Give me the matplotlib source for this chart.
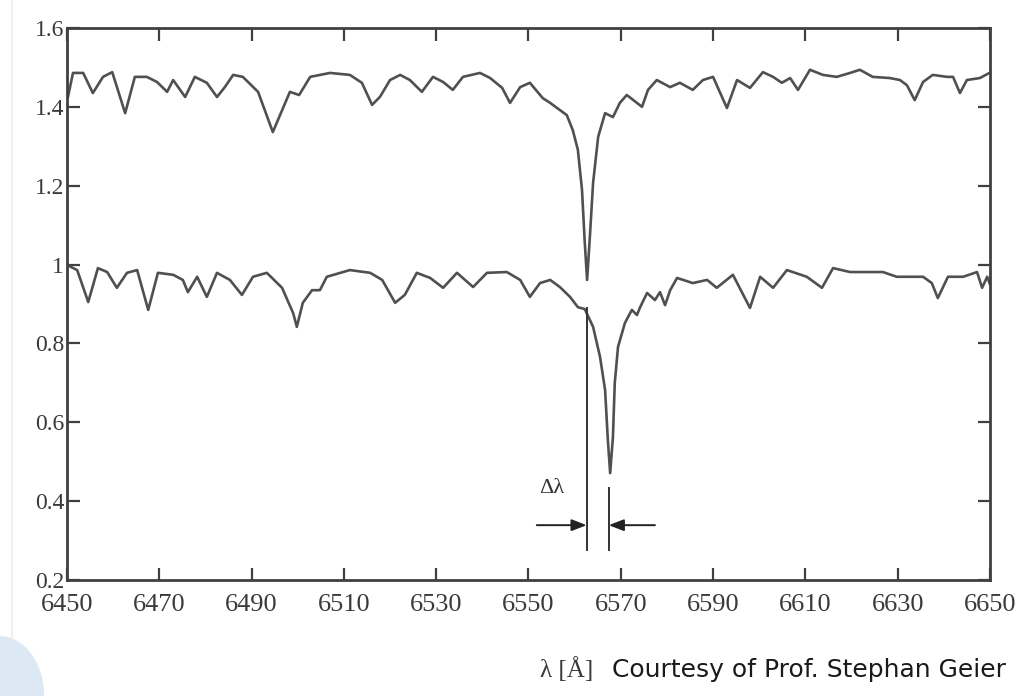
'''spectrum_shift.py
Two normalised spectra around H-alpha, offset by 0.5, with the
Doppler shift of the line core marked.
'''

import matplotlib
matplotlib.use('Agg')
import matplotlib.pyplot as plt
from matplotlib.patches import Ellipse

# upper spectrum (offset +0.5), wavelength in Angstrom
wl_upper = [6450.2, 6451.3, 6453.5, 6455.6, 6457.8, 6459.8, 6462.6, 6464.7,
            6467.3, 6469.5, 6471.7, 6473.0, 6475.6, 6477.7, 6480.3, 6482.5,
            6484.2, 6486.0, 6488.1, 6491.4, 6494.6, 6498.3, 6500.3, 6502.7,
            6507.0, 6511.3, 6513.9, 6516.1, 6517.8, 6520.0, 6522.2, 6524.3,
            6526.9, 6529.3, 6531.5, 6533.6, 6535.8, 6539.5, 6541.7, 6544.3,
            6546.0, 6548.2, 6550.3, 6553.1, 6554.7, 6556.2, 6558.3, 6559.6,
            6560.7, 6561.6, 6562.2, 6562.7, 6563.3, 6564.0, 6565.1, 6566.6,
            6568.3, 6569.8, 6571.3, 6574.6, 6575.9, 6577.8, 6580.7, 6582.8,
            6585.6, 6587.8, 6590.0, 6593.0, 6595.2, 6598.0, 6600.8, 6603.0,
            6604.9, 6606.7, 6608.4, 6611.0, 6613.8, 6616.8, 6619.7, 6621.8,
            6624.6, 6628.3, 6630.5, 6632.0, 6633.7, 6635.5, 6637.6, 6640.7,
            6642.0, 6643.5, 6645.0, 6647.8, 6649.9]
flux_upper = [1.425, 1.486, 1.486, 1.435, 1.476, 1.488, 1.384, 1.476,
              1.476, 1.463, 1.438, 1.468, 1.425, 1.476, 1.461, 1.425,
              1.450, 1.481, 1.476, 1.438, 1.336, 1.438, 1.430, 1.476,
              1.486, 1.481, 1.461, 1.405, 1.425, 1.468, 1.481, 1.468,
              1.438, 1.476, 1.463, 1.443, 1.476, 1.486, 1.473, 1.448,
              1.410, 1.450, 1.461, 1.422, 1.410, 1.397, 1.379, 1.341,
              1.291, 1.189, 1.055, 0.961, 1.070, 1.207, 1.324, 1.384,
              1.374, 1.410, 1.430, 1.400, 1.443, 1.468, 1.450, 1.461,
              1.443, 1.468, 1.476, 1.397, 1.468, 1.448, 1.488, 1.476,
              1.461, 1.473, 1.443, 1.494, 1.481, 1.476, 1.486, 1.494,
              1.476, 1.473, 1.468, 1.455, 1.417, 1.463, 1.481, 1.476,
              1.476, 1.435, 1.468, 1.473, 1.486]

# lower spectrum (red-shifted)
wl_lower = [6450.0, 6452.2, 6454.6, 6456.7, 6458.7, 6460.8, 6463.0, 6465.2,
            6467.6, 6469.7, 6473.0, 6475.1, 6476.2, 6478.2, 6480.3, 6482.5,
            6485.3, 6487.9, 6490.3, 6493.3, 6496.6, 6499.0, 6499.8, 6501.1,
            6503.1, 6504.8, 6506.3, 6511.3, 6515.7, 6518.3, 6521.1, 6523.2,
            6525.8, 6528.7, 6531.5, 6534.5, 6538.0, 6541.0, 6545.3, 6548.2,
            6550.3, 6552.5, 6554.7, 6556.8, 6559.0, 6560.7, 6562.2, 6564.0,
            6565.5, 6566.6, 6567.2, 6567.7, 6568.3, 6568.7, 6569.4, 6570.9,
            6572.4, 6573.5, 6574.2, 6575.7, 6577.4, 6578.5, 6579.6, 6580.7,
            6582.2, 6585.6, 6588.7, 6590.8, 6594.3, 6598.0, 6600.2, 6603.0,
            6606.0, 6610.3, 6613.6, 6616.0, 6619.7, 6623.3, 6626.8, 6629.8,
            6635.5, 6637.4, 6638.7, 6640.9, 6644.2, 6647.2, 6648.3, 6649.4,
            6650.0]
flux_lower = [0.999, 0.986, 0.905, 0.991, 0.981, 0.941, 0.979, 0.986,
              0.885, 0.979, 0.974, 0.961, 0.930, 0.969, 0.918, 0.979,
              0.961, 0.923, 0.969, 0.979, 0.941, 0.877, 0.842, 0.903,
              0.935, 0.935, 0.969, 0.986, 0.979, 0.961, 0.903, 0.923,
              0.979, 0.966, 0.941, 0.979, 0.943, 0.979, 0.981, 0.961,
              0.918, 0.953, 0.961, 0.943, 0.918, 0.892, 0.887, 0.842,
              0.766, 0.682, 0.555, 0.471, 0.563, 0.700, 0.791, 0.852,
              0.885, 0.872, 0.892, 0.928, 0.910, 0.930, 0.897, 0.935,
              0.966, 0.953, 0.961, 0.941, 0.974, 0.890, 0.969, 0.941,
              0.986, 0.969, 0.941, 0.991, 0.981, 0.981, 0.981, 0.969,
              0.969, 0.953, 0.915, 0.969, 0.969, 0.981, 0.941, 0.969,
              0.950]

# line centres used for the shift marker
lam_rest = 6562.6
lam_shift = 6567.4

x_ticks = [6450, 6470, 6490, 6510, 6530, 6550, 6570, 6590, 6610, 6630, 6650]
y_ticks = [0.2, 0.4, 0.6, 0.8, 1.0, 1.2, 1.4, 1.6]
y_ticklabels = ['0.2', '0.4', '0.6', '0.8', '1', '1.2', '1.4', '1.6']

serif = 'Liberation Serif'
ink = '#404040'


def main():
    fig = plt.figure(figsize=(10.23, 6.96), dpi=100)
    ax = fig.add_axes([0.0655, 0.1667, 0.9022, 0.7931])

    ax.plot(wl_upper, flux_upper, color='#505050', lw=1.9)
    ax.plot(wl_lower, flux_lower, color='#505050', lw=1.9)

    ax.set_xlim(6450, 6650)
    ax.set_ylim(0.2, 1.6)

    # marker lines down from the two line cores
    ax.plot([lam_rest, lam_rest], [0.276, 0.889], color='#333333', lw=1.4)
    ax.plot([lam_shift, lam_shift], [0.276, 0.433], color='#333333', lw=1.4)
    arrow = dict(arrowstyle='-|>,head_length=0.9,head_width=0.35',
                 color='#222222', lw=1.4, shrinkA=0, shrinkB=0)
    ax.annotate('', xy=(lam_rest, 0.339), xytext=(6551.8, 0.339),
                arrowprops=arrow)
    ax.annotate('', xy=(lam_shift, 0.339), xytext=(6577.4, 0.339),
                arrowprops=arrow)
    ax.text(6555.1, 0.431, '\u0394\u03bb', family=serif, fontsize=16,
            color='#333333', ha='center', va='center')

    for side in ['left', 'right', 'top', 'bottom']:
        ax.spines[side].set_color(ink)
        ax.spines[side].set_linewidth(2.0)

    ax.set_xticks(x_ticks)
    ax.set_yticks(y_ticks)
    ax.set_yticklabels(y_ticklabels)
    ax.tick_params(direction='in', length=9, width=1.6, color=ink,
                   top=True, right=True, labelcolor='#3a3a3a')
    ax.tick_params(axis='x', pad=10, labelsize=19)
    ax.tick_params(axis='y', pad=2, labelsize=17)
    for lab in ax.get_xticklabels() + ax.get_yticklabels():
        lab.set_family(serif)

    fig.text(567 / 1023, 1 - 670 / 696, '\u03bb [\u00c5]', family=serif,
             fontsize=18, color='#3a3a3a', ha='center', va='center')
    fig.text(612 / 1023, 1 - 670 / 696, 'Courtesy of Prof. Stephan Geier',
             family='DejaVu Sans', fontsize=18, color='#1a1a1a',
             ha='left', va='center')

    # slide border and corner shape
    fig.add_artist(plt.Line2D([12 / 1023, 12 / 1023], [1 - 640 / 696, 1],
                              color='#ececec', lw=1.2))
    fig.add_artist(Ellipse((0.0, 0.0), 0.085, 0.17, color='#dce9f5',
                           transform=fig.transFigure, zorder=0))

    fig.savefig('out.png', dpi=100)
    plt.close('all')


if __name__ == '__main__':
    main()
